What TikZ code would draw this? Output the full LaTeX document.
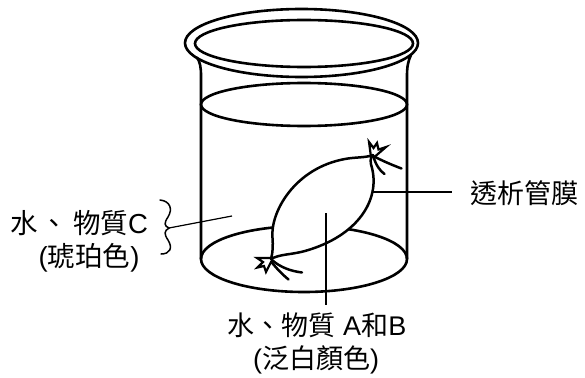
\documentclass[tikz,border=0pt]{standalone}
\usepackage{fontspec}
\setmainfont{Liberation Sans}
\newfontfamily\cjk{Noto Sans CJK TC}
\begin{document}
\begin{tikzpicture}[x=1pt,y=-1pt,
  glass/.style={line width=2.6pt, line join=round, line cap=round},
  sacline/.style={line width=2.5pt, line join=round, line cap=round},
  tieline/.style={line width=2.2pt, line join=miter, line cap=round},
  leader/.style={line width=1.2pt},
  lbl/.style={inner sep=0pt, anchor=base, font=\fontsize{27}{30}\selectfont}]
\useasboundingbox (0,0) rectangle (585,377);

% beaker rim
\draw[glass] (301.5,43) ellipse [x radius=116.5, y radius=34];
\draw[glass] (304,43.5) ellipse [x radius=109, y radius=23.5];
% walls
\draw[glass] (197,57.5) .. controls (200,62) and (201,67) .. (201,76) -- (201,259);
\draw[glass] (411,55) .. controls (408,61) and (407,67) .. (407,76) -- (407,259);
% water surface and bottom
\draw[glass] (304,104.5) ellipse [x radius=103, y radius=21.5];
\draw[glass] (304,259) ellipse [x radius=103, y radius=33];

% dialysis bag
\draw[sacline, fill=white]
  (271,259) .. controls (273,252) and (273,245) .. (272.5,238)
  .. controls (270,212) and (295,168) .. (345,159)
  .. controls (355,157) and (365,158) .. (373,155)
  .. controls (370,158) and (370,162) .. (372,168)
  .. controls (380,200) and (358,236) .. (305,251)
  .. controls (290,255) and (280,254) .. (271,259)
  -- cycle;

% tied ends
\draw[tieline] (371,157) -- (369,142) -- (373.5,148) -- (377,143) -- (378.5,149.5) -- (386,147) -- (375,156.5);
\draw[sacline] (373,156) .. controls (383,161) and (392,165) .. (401.5,168.5);
\draw[sacline] (373.5,157) .. controls (376,165) and (380,171) .. (384.5,174);
\draw[tieline] (272,258) -- (257,258) -- (263,262) -- (257.5,267.5) -- (264,266) -- (266,272) -- (271,262);
\draw[sacline] (272,260) .. controls (280,267) and (290,271) .. (302,272.5);
\draw[sacline] (271,261.5) .. controls (277,269) and (283,275) .. (288.5,279.5);

% brace
\draw[line width=1.5pt, line cap=round]
  (160,200) .. controls (170,201) and (173,209) .. (168,217)
  .. controls (164,223) and (164,226) .. (169,228)
  .. controls (164,231) and (164,234) .. (168,240)
  .. controls (173,248) and (170,254) .. (161,254);

% leaders
\coordinate (braceTip) at (169,228);
\coordinate (waterPt) at (232,216);
\coordinate (sacEdge) at (373,192);
\coordinate (membraneEnd) at (452,192);
\coordinate (sacInside) at (326,213);
\coordinate (abEnd) at (326,305);
\draw[leader] (braceTip) -- (waterPt);
\draw[leader] (sacEdge) -- (membraneEnd);
\draw[leader] (sacInside) -- (abEnd);

% labels
\node[lbl, anchor=base west] (membrane) at (470,203) {\cjk 透析管膜};
\node[lbl, anchor=base west, font=\fontsize{27.5}{30}\selectfont] (waterC) at (10,233) {{\cjk 水\kern3pt、\kern5pt物質}C};
\node[lbl, font=\fontsize{27.5}{30}\selectfont] (amber) at (89,266) {({\cjk 琥珀色})};
\node[lbl] (waterAB) at (317,335) {{\cjk 水、物質} A{\cjk 和}B};
\node[lbl] (pale) at (316,368) {({\cjk 泛白顏色})};
\end{tikzpicture}
\end{document}
